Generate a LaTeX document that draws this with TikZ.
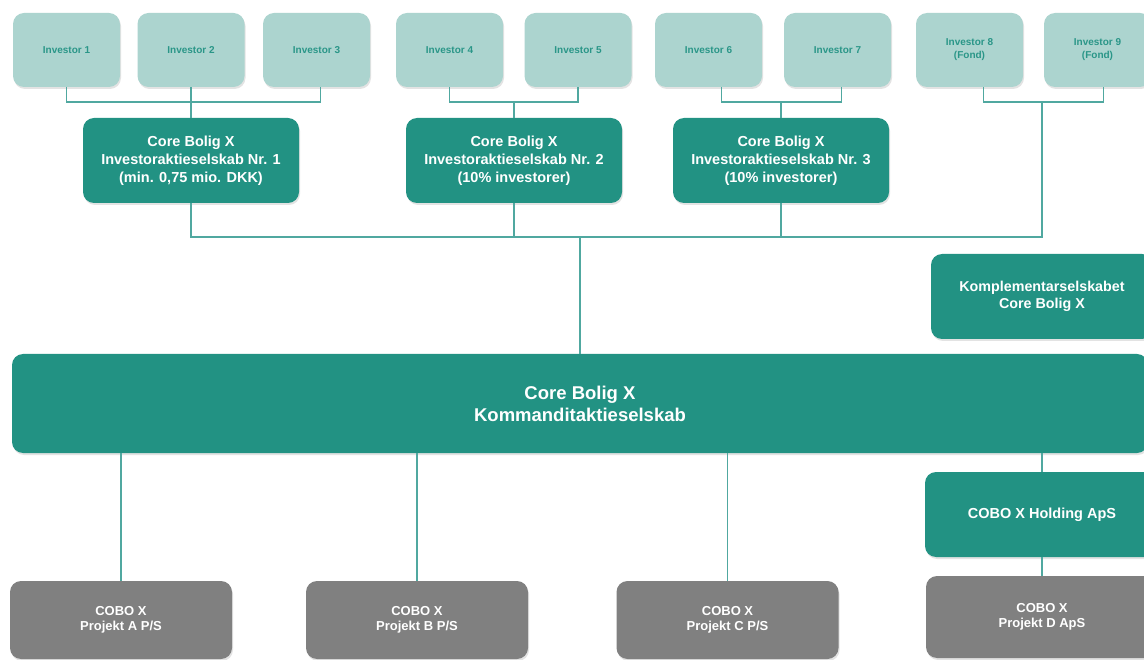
\documentclass[tikz,border=0pt]{standalone}
\usepackage{fontspec}
\setmainfont{Liberation Sans}
\usepackage{xcolor}
\usepackage{tikz}
\usetikzlibrary{shadows}

\definecolor{invfill}{RGB}{172,212,207}
\definecolor{invtext}{RGB}{42,150,136}
\definecolor{tealbox}{RGB}{34,146,131}
\definecolor{greybox}{RGB}{128,128,128}
\definecolor{linkcol}{RGB}{80,168,160}

\begin{document}
\begin{tikzpicture}[x=1pt,y=-1pt,
  box/.style={rounded corners=11pt,inner sep=0pt,align=center,
    drop shadow={shadow xshift=1pt,shadow yshift=-2pt,opacity=0.22}},
  investor/.style={box,fill=invfill,text=invtext,minimum width=107pt,minimum height=74pt,
    font=\fontsize{10}{13}\selectfont\bfseries},
  company/.style={box,fill=tealbox,text=white,minimum width=216pt,minimum height=85pt,
    font=\fontsize{14.5}{18}\selectfont\bfseries},
  project/.style={box,fill=greybox,text=white,minimum width=222pt,minimum height=78pt,
    font=\fontsize{13}{15.5}\selectfont\bfseries},
  link/.style={draw=linkcol,line width=1.6pt}
]
  \useasboundingbox (0,0) rectangle (1144,660);
  \fill[white] (0,0) rectangle (1144,660);
  \clip (0,0) rectangle (1144,660);

  % Investors
  \node[investor] (inv1) at (66.5,50) {Investor 1};
  \node[investor] (inv2) at (191,50) {Investor 2};
  \node[investor] (inv3) at (316.5,50) {Investor 3};
  \node[investor] (inv4) at (449.5,50) {Investor 4};
  \node[investor] (inv5) at (578,50) {Investor 5};
  \node[investor] (inv6) at (708.5,50) {Investor 6};
  \node[investor] (inv7) at (837.5,50) {Investor 7};
  \node[investor] (inv8) at (969.5,50) {Investor 8\\(Fond)};
  \node[investor] (inv9) at (1097.5,50) {Investor 9\\(Fond)};

  % Investor companies
  \node[company] (ia1) at (191,160.5) {Core Bolig X\\Investoraktieselskab Nr. 1\\(min. 0,75 mio. DKK)};
  \node[company] (ia2) at (514,160.5) {Core Bolig X\\Investoraktieselskab Nr. 2\\(10\% investorer)};
  \node[company] (ia3) at (781,160.5) {Core Bolig X\\Investoraktieselskab Nr. 3\\(10\% investorer)};

  % General partner and main company
  \node[company,minimum width=222pt,font=\fontsize{14.3}{17}\selectfont\bfseries] (kompl) at (1042,296.5)
    {Komplementarselskabet\\Core Bolig X};
  \node[company,minimum width=1136pt,minimum height=99pt,font=\fontsize{18.5}{22}\selectfont\bfseries] (ka) at (580,403.5)
    {Core Bolig X\\Kommanditaktieselskab};
  \node[company,minimum width=234pt] (hold) at (1042,514.5) {COBO X Holding ApS};

  % Projects
  \node[project] (pa) at (121,620) {COBO X\\Projekt A P/S};
  \node[project] (pb) at (417,620) {COBO X\\Projekt B P/S};
  \node[project] (pc) at (727.5,620) {COBO X\\Projekt C P/S};
  \node[project,minimum width=232pt,minimum height=82pt] (pd) at (1042,617) {COBO X\\Projekt D ApS};

  % Ownership lines (investors)
  \coordinate (j1) at (191,102);
  \coordinate (j2) at (514,102);
  \coordinate (j3) at (781,102);
  \coordinate (j4) at (1042,102);
  \coordinate (bus) at (1042,237);
  \draw[link] (inv1.south) |- (j1) -| ([xshift=4pt]inv3.south);
  \draw[link] (inv2) -- (ia1);
  \draw[link] (inv4.south) |- (j2) -| (inv5.south);
  \draw[link] (j2) -- (ia2);
  \draw[link] ([xshift=13pt]inv6.south) |- (j3) -| ([xshift=4pt]inv7.south);
  \draw[link] (j3) -- (ia3);
  \draw[link] ([xshift=14pt]inv8.south) |- (j4) -| ([xshift=6pt]inv9.south);
  \draw[link] (j4) -- (bus) -| (ia1);
  \draw[link] (ia2) -- (ia2 |- bus);
  \draw[link] (ia3) -- (ia3 |- bus);
  \draw[link] (ka) -- (ka |- bus);

  % Ownership lines (projects)
  \draw[link] (pa) -- (pa |- ka.south);
  \draw[link] (pb) -- (pb |- ka.south);
  \draw[link] (pc) -- (pc |- ka.south);
  \draw[link] (hold |- ka.south) -- (hold);
  \draw[link] (hold) -- (pd);
\end{tikzpicture}
\end{document}
